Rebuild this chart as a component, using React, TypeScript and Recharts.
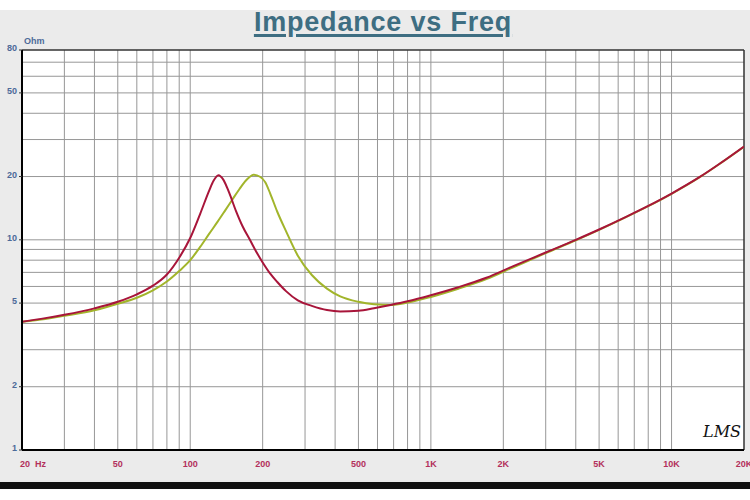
import React from 'react';
import { LineChart, Line, XAxis, YAxis, ReferenceLine } from 'recharts';

// impedance readings (Hz, Ohm) taken off the plot
const redFreq = [20, 25, 30, 40, 50, 60, 70, 80, 90, 100, 110, 120, 125, 131, 137, 145, 155, 165, 177, 190, 200, 215, 230, 250, 280, 320, 370, 420, 500, 580, 680, 800, 1000, 1300, 1700, 2200, 3000, 4000, 5000, 6500, 8000, 10000, 13000, 16000, 20000];
const redZ = [4.08, 4.24, 4.4, 4.72, 5.07, 5.5, 6.05, 6.84, 8.22, 10.2, 13.3, 17.2, 19.1, 20.3, 19.4, 16.8, 13.7, 11.6, 10.0, 8.6, 7.8, 6.9, 6.3, 5.7, 5.15, 4.85, 4.63, 4.56, 4.6, 4.73, 4.9, 5.1, 5.45, 5.95, 6.6, 7.5, 8.7, 10.0, 11.2, 12.9, 14.5, 16.6, 19.8, 23.2, 27.8];

const greenFreq = [20, 25, 30, 40, 50, 60, 70, 80, 90, 100, 110, 120, 130, 140, 150, 160, 170, 177, 183, 195, 205, 215, 230, 250, 280, 320, 370, 420, 500, 580, 680, 800, 1000, 1300, 1700, 2200, 3000, 4000, 5000, 6500, 8000, 10000, 13000, 16000, 20000];
const greenZ = [4.08, 4.2, 4.35, 4.62, 4.96, 5.3, 5.75, 6.33, 7.1, 8.0, 9.25, 10.7, 12.2, 13.85, 15.6, 17.4, 19.1, 19.95, 20.4, 19.95, 18.8, 16.6, 13.6, 11.0, 8.4, 6.8, 5.86, 5.38, 5.07, 4.94, 4.9, 5.03, 5.35, 5.85, 6.5, 7.4, 8.65, 9.95, 11.15, 12.85, 14.45, 16.55, 19.75, 23.15, 27.7];

const xTicks = [20, 50, 100, 200, 500, 1000, 2000, 5000, 10000, 20000];
const xTickLabels = ['20  Hz', '50', '100', '200', '500', '1K', '2K', '5K', '10K', '20K'];
const yTicks = [1, 2, 5, 10, 20, 50, 80];

const vGrid = [30, 40, 50, 60, 70, 80, 90, 100, 200, 300, 400, 500, 600, 700, 800, 900, 1000, 2000, 3000, 4000, 5000, 6000, 7000, 8000, 9000, 10000];
const hGrid = [2, 3, 4, 5, 6, 7, 8, 9, 10, 20, 30, 40, 50, 60, 70];

const toSeries = (f: number[], z: number[]) => f.map((v, i) => ({ f: v, z: z[i] }));
const redData = toSeries(redFreq, redZ);
const greenData = toSeries(greenFreq, greenZ);

const XTick = (props: any) => {
  const { x, y, payload } = props;
  const i = xTicks.indexOf(payload.value);
  const first = i === 0;
  return (
    <text x={first ? x - 2 : x} y={y + 9} textAnchor={first ? 'start' : 'middle'}
      fontSize={9} fontWeight="bold" fill="#b3305c" fontFamily="Liberation Sans, Arial" style={{ whiteSpace: 'pre' }}>
      {xTickLabels[i]}
    </text>
  );
};

const YTick = (props: any) => {
  const { x, y, payload } = props;
  return (
    <text x={x} y={y + 1} textAnchor="end" fontSize={9} fontWeight="bold" fill="#4d6a99" fontFamily="Liberation Sans, Arial">
      {payload.value}
    </text>
  );
};

export default function App() {
  return (
    <div style={{ position: 'absolute', left: 0, top: 0, width: 750, height: 500, background: '#fff', overflow: 'hidden' }}>
      <div style={{ position: 'absolute', left: 0, top: 10, width: 750, height: 472, background: '#ebebeb' }} />
      <div style={{ position: 'absolute', left: 0, top: 482, width: 750, height: 7, background: '#111' }} />
      <div style={{
        position: 'absolute', left: 0, top: 9, width: 766, textAlign: 'center', fontFamily: 'Liberation Sans, Arial', fontWeight: 'bold',
        fontSize: 27, lineHeight: '27px', letterSpacing: 0.8, color: '#3e6e82', textDecoration: 'underline',
        textDecorationThickness: 3, textUnderlineOffset: 3,
      }}>Impedance vs Freq</div>
      <div style={{ position: 'absolute', left: 24, top: 36, fontFamily: 'Liberation Sans, Arial', fontWeight: 'bold', fontSize: 9, color: '#4d6a99' }}>Ohm</div>
      <div style={{ position: 'absolute', left: 0, top: 0 }}>
        <LineChart width={750} height={500} data={redData} margin={{ top: 50, right: 6, bottom: 30, left: 2 }}>
          <rect x={22} y={50} width={722} height={400} fill="#fff" />
          {vGrid.map((v) => (
            <ReferenceLine key={'v' + v} x={v} stroke="#979797" strokeWidth={1} />
          ))}
          {hGrid.map((v) => (
            <ReferenceLine key={'h' + v} y={v} stroke="#979797" strokeWidth={1} />
          ))}
          <ReferenceLine y={80} stroke="#333" strokeWidth={1.5} />
          <ReferenceLine x={20000} stroke="#333" strokeWidth={1.5} />
          <XAxis dataKey="f" type="number" scale="log" domain={[20, 20000]} ticks={xTicks} height={20}
            allowDataOverflow axisLine={{ stroke: '#000', strokeWidth: 2 }} tickLine={false} tick={<XTick />} interval={0} />
          <YAxis dataKey="z" type="number" scale="log" domain={[1, 80]} ticks={yTicks} width={20}
            allowDataOverflow axisLine={{ stroke: '#000', strokeWidth: 2 }} tickSize={3} tickLine={{ stroke: '#333' }} tick={<YTick />} interval={0} />
          <Line data={greenData} dataKey="z" type="monotone" stroke="#a2b52b" strokeWidth={2} dot={false} isAnimationActive={false} />
          <Line data={redData} dataKey="z" type="monotone" stroke="#a8153a" strokeWidth={2} dot={false} isAnimationActive={false} />
        </LineChart>
      </div>
      <div style={{ position: 'absolute', left: 703, top: 422, fontFamily: 'DejaVu Serif', fontStyle: 'italic', fontSize: 16, color: '#111' }}>LMS</div>
    </div>
  );
}
